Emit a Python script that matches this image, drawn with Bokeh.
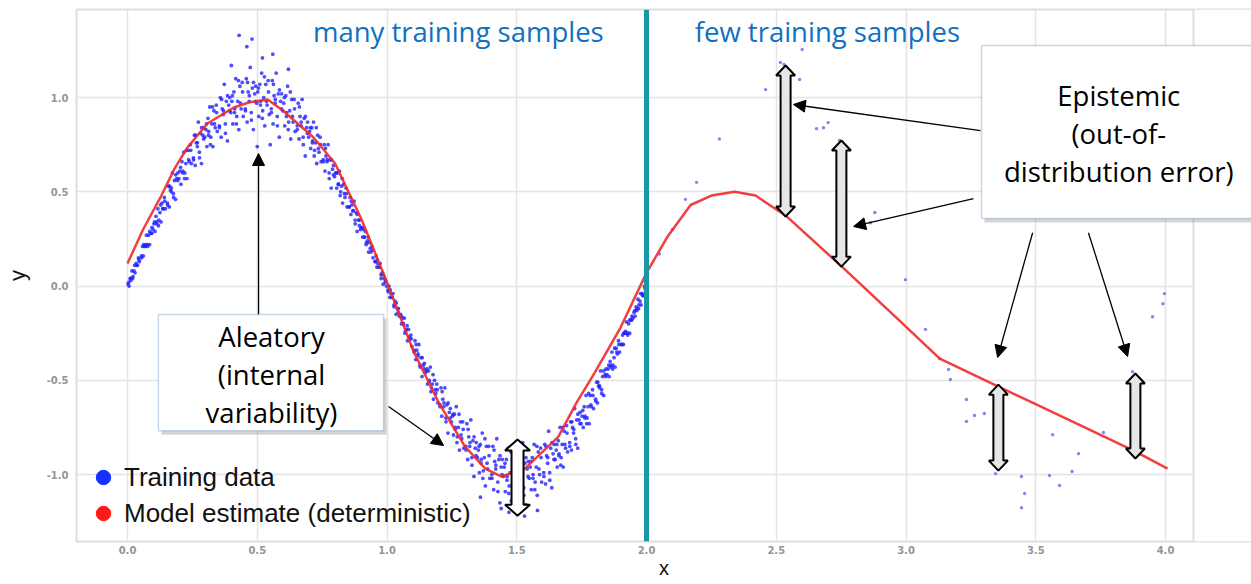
from bokeh.plotting import figure
from bokeh.models import (FixedTicker, NumeralTickFormatter, Span, Label, BoxAnnotation,
                          Arrow, NormalHead, Legend, LegendItem)
from bokeh.embed import file_html
from bokeh.resources import INLINE

# ---------------- data ----------------
train_x = [
    0.002,0.006,0.010,0.013,0.017,0.021,0.025,0.029,0.033,0.038,0.042,0.046,
    0.054,0.058,0.061,0.065,0.069,0.073,0.077,0.081,0.085,0.090,0.094,0.098,
    0.102,0.106,0.110,0.113,0.117,0.121,0.125,0.129,0.133,0.138,0.142,0.146,
    0.154,0.158,0.161,0.165,0.169,0.173,0.177,0.181,0.185,0.190,0.194,0.198,
    0.202,0.206,0.210,0.213,0.217,0.221,0.225,0.229,0.233,0.238,0.242,0.246,
    0.254,0.258,0.261,0.265,0.269,0.273,0.277,0.281,0.285,0.290,0.294,0.298,
    0.302,0.306,0.310,0.313,0.317,0.321,0.325,0.329,0.333,0.338,0.342,0.346,
    0.354,0.358,0.361,0.365,0.369,0.373,0.377,0.381,0.385,0.390,0.394,0.398,
    0.402,0.406,0.410,0.413,0.417,0.421,0.425,0.429,0.433,0.438,0.442,0.446,
    0.454,0.458,0.461,0.465,0.469,0.473,0.477,0.481,0.485,0.490,0.494,0.498,
    0.502,0.506,0.510,0.513,0.517,0.521,0.525,0.529,0.533,0.538,0.542,0.546,
    0.554,0.558,0.561,0.565,0.569,0.573,0.577,0.581,0.585,0.590,0.594,0.598,
    0.602,0.606,0.610,0.613,0.617,0.621,0.625,0.629,0.633,0.638,0.642,0.646,
    0.654,0.658,0.661,0.665,0.669,0.673,0.677,0.681,0.685,0.690,0.694,0.698,
    0.702,0.706,0.710,0.713,0.717,0.721,0.725,0.729,0.733,0.738,0.742,0.746,
    0.754,0.758,0.761,0.765,0.769,0.773,0.777,0.781,0.785,0.790,0.794,0.798,
    0.802,0.806,0.810,0.813,0.817,0.821,0.825,0.829,0.833,0.838,0.842,0.846,
    0.854,0.858,0.861,0.865,0.869,0.873,0.877,0.881,0.885,0.890,0.894,0.898,
    0.902,0.906,0.910,0.913,0.917,0.921,0.925,0.929,0.933,0.938,0.942,0.946,
    0.954,0.958,0.961,0.965,0.969,0.973,0.977,0.981,0.985,0.990,0.994,0.998,
    1.004,1.008,1.011,1.015,1.019,1.023,1.027,1.031,1.035,1.040,1.044,1.048,
    1.052,1.056,1.060,1.063,1.067,1.071,1.075,1.079,1.083,1.088,1.092,1.096,
    1.104,1.108,1.111,1.115,1.119,1.123,1.127,1.131,1.135,1.140,1.144,1.148,
    1.152,1.156,1.160,1.163,1.167,1.171,1.175,1.179,1.183,1.188,1.192,1.196,
    1.204,1.208,1.211,1.215,1.219,1.223,1.227,1.231,1.235,1.240,1.244,1.248,
    1.252,1.256,1.260,1.263,1.267,1.271,1.275,1.279,1.283,1.288,1.292,1.296,
    1.304,1.308,1.311,1.315,1.319,1.323,1.327,1.331,1.335,1.340,1.344,1.348,
    1.352,1.356,1.360,1.363,1.367,1.371,1.375,1.379,1.383,1.388,1.392,1.396,
    1.404,1.408,1.411,1.415,1.419,1.423,1.427,1.431,1.435,1.440,1.444,1.448,
    1.452,1.456,1.460,1.463,1.467,1.471,1.475,1.479,1.483,1.488,1.492,1.496,
    1.504,1.508,1.511,1.515,1.519,1.523,1.527,1.531,1.535,1.540,1.544,1.548,
    1.552,1.556,1.560,1.563,1.567,1.571,1.575,1.579,1.583,1.588,1.592,1.596,
    1.604,1.608,1.611,1.615,1.619,1.623,1.627,1.631,1.635,1.640,1.644,1.648,
    1.652,1.656,1.660,1.663,1.667,1.671,1.675,1.679,1.683,1.688,1.692,1.696,
    1.704,1.708,1.711,1.715,1.719,1.723,1.727,1.731,1.735,1.740,1.744,1.748,
    1.752,1.756,1.760,1.763,1.767,1.771,1.775,1.779,1.783,1.788,1.792,1.796,
    1.804,1.808,1.811,1.815,1.819,1.823,1.827,1.831,1.835,1.840,1.844,1.848,
    1.852,1.856,1.860,1.863,1.867,1.871,1.875,1.879,1.883,1.888,1.892,1.896,
    1.904,1.908,1.911,1.915,1.919,1.923,1.927,1.931,1.935,1.940,1.944,1.948,
    1.952,1.956,1.960,1.963,1.967,1.971,1.975,1.979,1.983,1.988,1.992,1.996,
    0.43,0.48,0.46,0.52,0.56,0.40,0.62,0.50,0.55,1.47,1.53,1.58,1.44,1.36,
]
train_y = [
    0.01,0.00,0.04,0.04,0.08,0.05,0.08,0.07,0.12,0.11,0.15,0.13,
    0.16,0.21,0.16,0.21,0.21,0.27,0.22,0.27,0.22,0.28,0.31,0.30,
    0.33,0.29,0.37,0.34,0.41,0.35,0.39,0.34,0.44,0.41,0.47,0.41,
    0.44,0.53,0.42,0.51,0.50,0.60,0.49,0.56,0.46,0.57,0.60,0.57,
    0.61,0.54,0.66,0.61,0.71,0.60,0.65,0.57,0.72,0.66,0.75,0.65,
    0.68,0.80,0.64,0.76,0.74,0.87,0.71,0.81,0.65,0.80,0.84,0.79,
    0.83,0.74,0.89,0.82,0.95,0.79,0.86,0.74,0.93,0.84,0.96,0.82,
    0.85,1.00,0.79,0.94,0.91,1.07,0.86,0.98,0.77,0.96,1.00,0.92,
    0.98,0.86,1.03,0.94,1.10,0.90,0.98,0.83,1.06,0.94,1.08,0.90,
    0.94,1.10,0.87,1.03,0.98,1.16,0.92,1.05,0.83,1.02,1.06,0.97,
    1.03,0.90,1.07,0.98,1.13,0.93,1.00,0.85,1.07,0.96,1.09,0.91,
    0.94,1.09,0.86,1.01,0.97,1.13,0.90,1.02,0.79,0.98,1.02,0.93,
    0.97,0.85,1.01,0.92,1.06,0.87,0.93,0.78,0.99,0.87,0.99,0.82,
    0.85,0.97,0.78,0.90,0.85,0.99,0.79,0.89,0.69,0.84,0.87,0.79,
    0.82,0.73,0.84,0.77,0.87,0.72,0.76,0.65,0.80,0.71,0.79,0.66,
    0.67,0.75,0.61,0.69,0.66,0.75,0.60,0.67,0.52,0.62,0.64,0.58,
    0.60,0.52,0.60,0.54,0.61,0.50,0.53,0.44,0.54,0.47,0.52,0.42,
    0.42,0.47,0.38,0.43,0.40,0.45,0.35,0.39,0.29,0.35,0.35,0.30,
    0.31,0.26,0.30,0.26,0.29,0.23,0.24,0.18,0.23,0.18,0.21,0.15,
    0.13,0.16,0.10,0.12,0.10,0.12,0.06,0.07,0.01,0.04,0.03,0.00,
    -0.02,0.00,-0.06,-0.04,-0.06,-0.04,-0.10,-0.08,-0.15,-0.12,-0.12,-0.16,
    -0.15,-0.20,-0.17,-0.20,-0.17,-0.24,-0.23,-0.29,-0.23,-0.28,-0.26,-0.32,
    -0.34,-0.29,-0.39,-0.34,-0.37,-0.31,-0.42,-0.38,-0.48,-0.42,-0.41,-0.46,
    -0.45,-0.52,-0.45,-0.50,-0.43,-0.54,-0.52,-0.60,-0.50,-0.57,-0.52,-0.62,
    -0.63,-0.54,-0.69,-0.60,-0.64,-0.54,-0.70,-0.63,-0.78,-0.67,-0.65,-0.72,
    -0.69,-0.79,-0.68,-0.75,-0.64,-0.80,-0.75,-0.87,-0.72,-0.81,-0.72,-0.86,
    -0.85,-0.73,-0.92,-0.80,-0.85,-0.71,-0.91,-0.82,-1.01,-0.86,-0.83,-0.91,
    -0.87,-0.99,-0.84,-0.92,-0.78,-0.98,-0.91,-1.06,-0.85,-0.97,-0.85,-1.02,
    -1.00,-0.85,-1.08,-0.93,-0.97,-0.81,-1.04,-0.92,-1.15,-0.96,-0.92,-1.01,
    -0.96,-1.09,-0.92,-1.01,-0.86,-1.06,-0.99,-1.14,-0.92,-1.03,-0.90,-1.08,
    -1.04,-0.89,-1.11,-0.96,-1.00,-0.83,-1.07,-0.94,-1.16,-0.97,-0.93,-1.02,
    -0.96,-1.08,-0.91,-1.00,-0.84,-1.04,-0.96,-1.11,-0.88,-1.00,-0.86,-1.04,
    -0.99,-0.84,-1.05,-0.90,-0.94,-0.77,-0.99,-0.86,-1.07,-0.89,-0.84,-0.92,
    -0.87,-0.96,-0.82,-0.89,-0.75,-0.91,-0.84,-0.96,-0.77,-0.86,-0.74,-0.88,
    -0.83,-0.72,-0.87,-0.75,-0.78,-0.65,-0.81,-0.71,-0.86,-0.71,-0.67,-0.73,
    -0.69,-0.75,-0.64,-0.69,-0.58,-0.70,-0.64,-0.73,-0.58,-0.64,-0.55,-0.65,
    -0.60,-0.51,-0.62,-0.53,-0.54,-0.45,-0.55,-0.48,-0.58,-0.47,-0.44,-0.47,
    -0.44,-0.48,-0.40,-0.42,-0.35,-0.42,-0.38,-0.43,-0.33,-0.36,-0.29,-0.35,
    -0.31,-0.26,-0.31,-0.25,-0.25,-0.19,-0.25,-0.20,-0.25,-0.18,-0.16,-0.17,
    -0.14,-0.16,-0.11,-0.12,-0.07,-0.10,-0.08,-0.10,-0.04,-0.05,0.00,-0.03,
    1.33,1.31,1.27,1.21,1.23,1.17,1.15,0.74,0.75,-1.20,-1.22,-1.19,-1.18,-1.12,
]

# more training points filling the dense band
train_x_extra = [
    0.0045,0.0125,0.0195,0.0275,0.0355,0.0435, 0.0545,0.0625,0.0695,0.0775,0.0855,0.0935,
    0.1045,0.1125,0.1195,0.1275,0.1355,0.1435, 0.1545,0.1625,0.1695,0.1775,0.1855,0.1935,
    0.2045,0.2125,0.2195,0.2275,0.2355,0.2435, 0.2545,0.2625,0.2695,0.2775,0.2855,0.2935,
    0.3045,0.3125,0.3195,0.3275,0.3355,0.3435, 0.3545,0.3625,0.3695,0.3775,0.3855,0.3935,
    0.4045,0.4125,0.4195,0.4275,0.4355,0.4435, 0.4545,0.4625,0.4695,0.4775,0.4855,0.4935,
    0.5045,0.5125,0.5195,0.5275,0.5355,0.5435, 0.5545,0.5625,0.5695,0.5775,0.5855,0.5935,
    0.6045,0.6125,0.6195,0.6275,0.6355,0.6435, 0.6545,0.6625,0.6695,0.6775,0.6855,0.6935,
    0.7045,0.7125,0.7195,0.7275,0.7355,0.7435, 0.7545,0.7625,0.7695,0.7775,0.7855,0.7935,
    0.8045,0.8125,0.8195,0.8275,0.8355,0.8435, 0.8545,0.8625,0.8695,0.8775,0.8855,0.8935,
    0.9045,0.9125,0.9195,0.9275,0.9355,0.9435, 0.9545,0.9625,0.9695,0.9775,0.9855,0.9935,
    1.0045,1.0125,1.0195,1.0275,1.0355,1.0435, 1.0545,1.0625,1.0695,1.0775,1.0855,1.0935,
    1.1045,1.1125,1.1195,1.1275,1.1355,1.1435, 1.1545,1.1625,1.1695,1.1775,1.1855,1.1935,
    1.2045,1.2125,1.2195,1.2275,1.2355,1.2435, 1.2545,1.2625,1.2695,1.2775,1.2855,1.2935,
    1.3045,1.3125,1.3195,1.3275,1.3355,1.3435, 1.3545,1.3625,1.3695,1.3775,1.3855,1.3935,
    1.4045,1.4125,1.4195,1.4275,1.4355,1.4435, 1.4545,1.4625,1.4695,1.4775,1.4855,1.4935,
    1.5045,1.5125,1.5195,1.5275,1.5355,1.5435, 1.5545,1.5625,1.5695,1.5775,1.5855,1.5935,
    1.6045,1.6125,1.6195,1.6275,1.6355,1.6435, 1.6545,1.6625,1.6695,1.6775,1.6855,1.6935,
    1.7045,1.7125,1.7195,1.7275,1.7355,1.7435, 1.7545,1.7625,1.7695,1.7775,1.7855,1.7935,
    1.8045,1.8125,1.8195,1.8275,1.8355,1.8435, 1.8545,1.8625,1.8695,1.8775,1.8855,1.8935,
    1.9045,1.9125,1.9195,1.9275,1.9355,1.9435, 1.9545,1.9625,1.9695,1.9775,1.9855,1.9935,
]
train_y_extra = [
    0.02,0.03,0.04,0.11,0.11,0.14, 0.15,0.22,0.22,0.21,0.29,0.28,
    0.34,0.33,0.32,0.43,0.41,0.45, 0.43,0.53,0.52,0.47,0.59,0.56,
    0.63,0.60,0.57,0.72,0.67,0.72, 0.67,0.80,0.76,0.68,0.84,0.78,
    0.86,0.80,0.75,0.95,0.86,0.92, 0.84,0.99,0.93,0.81,1.01,0.93,
    1.01,0.92,0.86,1.09,0.97,1.03, 0.93,1.08,1.01,0.88,1.08,0.98,
    1.05,0.96,0.89,1.11,0.98,1.03, 0.92,1.07,0.99,0.85,1.04,0.94,
    1.00,0.90,0.83,1.03,0.90,0.94, 0.83,0.95,0.87,0.75,0.90,0.81,
    0.84,0.76,0.69,0.84,0.73,0.75, 0.66,0.73,0.67,0.57,0.67,0.59,
    0.60,0.54,0.48,0.57,0.49,0.49, 0.42,0.45,0.40,0.33,0.38,0.32,
    0.31,0.26,0.22,0.26,0.20,0.19, 0.13,0.14,0.10,0.04,0.06,0.02,
    -0.03,-0.02,-0.06,-0.11,-0.09,-0.14, -0.16,-0.20,-0.25,-0.21,-0.27,-0.28,
    -0.35,-0.31,-0.36,-0.43,-0.38,-0.44, -0.44,-0.51,-0.56,-0.47,-0.55,-0.55,
    -0.64,-0.56,-0.62,-0.72,-0.62,-0.70, -0.68,-0.76,-0.83,-0.68,-0.79,-0.76,
    -0.87,-0.76,-0.83,-0.95,-0.80,-0.90, -0.85,-0.94,-1.02,-0.81,-0.94,-0.90,
    -1.02,-0.87,-0.95,-1.09,-0.90,-1.00, -0.94,-1.03,-1.10,-0.88,-1.01,-0.95,
    -1.06,-0.91,-0.98,-1.11,-0.91,-1.01, -0.93,-1.02,-1.08,-0.85,-0.97,-0.91,
    -1.01,-0.85,-0.91,-1.03,-0.83,-0.92, -0.84,-0.90,-0.95,-0.75,-0.84,-0.78,
    -0.85,-0.72,-0.76,-0.84,-0.68,-0.73, -0.66,-0.70,-0.73,-0.57,-0.63,-0.58,
    -0.61,-0.51,-0.53,-0.57,-0.45,-0.48, -0.42,-0.43,-0.44,-0.33,-0.35,-0.31,
    -0.31,-0.25,-0.24,-0.26,-0.18,-0.18, -0.13,-0.13,-0.12,-0.04,-0.05,-0.01,
]

sparse_x = [2.05, 2.10, 2.15, 2.193, 2.281, 2.459, 2.516, 2.53, 2.59, 2.60, 2.655, 2.682,
            2.70, 2.744, 2.863, 2.88, 2.998, 3.075, 3.13, 3.164, 3.171, 3.233, 3.233,
            3.264, 3.302, 3.345, 3.445, 3.457, 3.445, 3.553, 3.565, 3.592, 3.64, 3.665,
            3.761, 3.873, 3.95, 3.99, 3.996]
sparse_y = [0.17, 0.30, 0.46, 0.55, 0.78, 1.042, 1.186, 1.175, 1.096, 1.255, 0.835, 0.84,
            0.867, 0.772, 0.336, 0.39, 0.034, -0.23, -0.385, -0.443, -0.496, -0.602, -0.718,
            -0.687, -0.676, -0.995, -1.01, -1.10, -1.176, -1.005, -0.789, -1.058, -0.984, -0.889,
            -0.777, -0.454, -0.163, -0.094, -0.04]

model_x = [0.0, 0.06, 0.127, 0.18, 0.231, 0.308, 0.41, 0.47, 0.54, 0.60, 0.717, 0.80, 0.90,
           1.0, 1.1, 1.2, 1.3, 1.38, 1.44, 1.53, 1.66, 1.73, 1.80, 1.90, 2.0, 2.08, 2.17,
           2.25, 2.34, 2.42, 2.54, 2.755, 2.98, 3.13, 3.35, 3.52, 3.877, 4.008]
model_y = [0.12, 0.30, 0.47, 0.62, 0.735, 0.862, 0.947, 0.975, 0.99, 0.93, 0.788, 0.65, 0.36,
           0.02, -0.34, -0.62, -0.85, -0.97, -1.01, -0.97, -0.80, -0.62, -0.46, -0.22, 0.07,
           0.26, 0.43, 0.48, 0.50, 0.48, 0.37, 0.10, -0.19, -0.385, -0.53, -0.64, -0.873, -0.968]

x_ticks = [0.0, 0.5, 1.0, 1.5, 2.0, 2.5, 3.0, 3.5, 4.0]
y_ticks = [-1.0, -0.5, 0.0, 0.5, 1.0]
split_x = 2.0
plot_right = 4.108   # right edge of the original axes box

# double-headed (hollow) arrows: x, top, bottom in data units
darrow_x = [1.503, 2.536, 2.751, 3.356, 3.884]
darrow_top = [-0.814, 1.170, 0.772, -0.523, -0.464]
darrow_bot = [-1.218, 0.369, 0.103, -0.979, -0.915]

# pointer arrows (start -> end) in data units
ptr_x0 = [0.505, 1.006, 3.287, 3.26, 3.488, 3.703]
ptr_y0 = [-0.151, -0.639, 0.825, 0.464, 0.283, 0.283]
ptr_x1 = [0.505, 1.218, 2.566, 2.798, 3.353, 3.854]
ptr_y1 = [0.703, -0.846, 0.963, 0.316, -0.379, -0.374]

aleatory_lines = ["Aleatory", "(internal", "variability)"]
epistemic_lines = ["Epistemic", "(out-of-", "distribution error)"]
legend_labels = ["Training data", "Model estimate (deterministic)"]

# ---------------- figure ----------------
W, H = 1251, 584
BL, BR, BT, BB = 76, 0, 9, 43
PX = 259.5
X0 = -51 / PX
X1 = X0 + (W - BL - BR) / PX
Y0, Y1 = -1.355, 1.467
FH = H - BT - BB
PY = FH / (Y1 - Y0)

p = figure(width=W, height=H, x_range=(X0, X1), y_range=(Y0, Y1),
           output_backend="svg", toolbar_location=None,
           min_border_left=BL, min_border_right=BR, min_border_top=BT, min_border_bottom=BB)
p.background_fill_color = "white"
p.border_fill_color = "white"
p.outline_line_color = "#dedede"
p.outline_line_width = 2

p.xaxis.ticker = FixedTicker(ticks=x_ticks)
p.yaxis.ticker = FixedTicker(ticks=y_ticks)
for ax in (p.xaxis, p.yaxis):
    ax.formatter = NumeralTickFormatter(format="0.0")
    ax.axis_line_color = None
    ax.major_tick_line_color = None
    ax.minor_tick_line_color = None
    ax.major_tick_out = 0
    ax.major_tick_in = 0
    ax.major_label_text_font = "DejaVu Sans"
    ax.major_label_text_font_style = "bold"
    ax.major_label_text_font_size = "10px"
    ax.major_label_text_color = "#959595"
    ax.axis_label_text_font = "Liberation Sans"
    ax.axis_label_text_font_style = "normal"
    ax.axis_label_text_color = "#111111"
p.xaxis.major_label_standoff = 4
p.yaxis.major_label_standoff = 8
p.yaxis.axis_label = "y"
p.yaxis.axis_label_text_font_size = "22px"
p.yaxis.axis_label_standoff = 14
p.xaxis.axis_label = "x"
p.xaxis.axis_label_text_font_size = "20px"
p.xaxis.axis_label_standoff = 0

p.grid.grid_line_color = "#e4e4e4"
p.grid.grid_line_width = 1.5

# blank out the area to the right of the original axes box
p.add_layout(BoxAnnotation(left=plot_right, right=X1 + 1, fill_color="white", fill_alpha=1.0,
                           line_color=None, level="underlay"))
p.add_layout(Span(location=plot_right, dimension="height", line_color="#dedede", line_width=2,
                  level="underlay"))

# data
p.scatter(train_x + train_x_extra, train_y + train_y_extra, size=3.8, color="#2222ff",
          alpha=0.8, line_width=0)
p.scatter(sparse_x, sparse_y, size=3.4, color="#6e6eee", alpha=0.85, line_width=0)
p.line(model_x, model_y, line_color="#f02a2a", line_width=2.5, line_alpha=0.9)

p.add_layout(Span(location=split_x, dimension="height", line_color="#1a97a3", line_width=5))

# headers
blue = "#1070c0"
p.add_layout(Label(x=1.275, y=Y1 - 22 / PY, text="many training samples", text_align="center",
                   text_baseline="middle", text_font="Open Sans", text_font_size="27.5px",
                   text_color=blue))
p.add_layout(Label(x=2.697, y=Y1 - 22 / PY, text="few training samples", text_align="center",
                   text_baseline="middle", text_font="Open Sans", text_font_size="27.5px",
                   text_color=blue))

# hollow double arrows
def darrow(cx, top, bot, hw, hh, hl):
    dx_w, dx_h, dy_l = hw / PX, hh / PX, hl / PY
    xs = [cx, cx + dx_h, cx + dx_w, cx + dx_w, cx + dx_h, cx, cx - dx_h, cx - dx_w, cx - dx_w, cx - dx_h]
    ys = [top, top - dy_l, top - dy_l, bot + dy_l, bot + dy_l, bot, bot + dy_l, bot + dy_l, top - dy_l, top - dy_l]
    return xs, ys

dxs, dys, fills = [], [], []
for i, (cx, t, b) in enumerate(zip(darrow_x, darrow_top, darrow_bot)):
    if i == 0:
        xs, ys = darrow(cx, t, b, 6, 12.5, 11)
        fills.append("white")
    else:
        xs, ys = darrow(cx, t, b, 5, 9.5, 10)
        fills.append("#e6e6e6")
    dxs.append(xs)
    dys.append(ys)
p.patches(dxs, dys, fill_color=fills, line_color="black", line_width=2)

# text boxes with shadow
def text_box(left, right, top, bottom):
    p.add_layout(BoxAnnotation(left=left + 3 / PX, right=right + 3 / PX, top=top - 4 / PY,
                               bottom=bottom - 4 / PY, fill_color="#888888", fill_alpha=0.35,
                               line_color=None, level="overlay"))
    p.add_layout(BoxAnnotation(left=left, right=right, top=top, bottom=bottom,
                               fill_color="white", fill_alpha=1.0, line_color="#4a7ebb",
                               line_width=1.5, level="overlay"))

text_box(0.119, 0.987, -0.151, -0.767)
text_box(3.291, X1 + 1, 1.276, 0.358)

for i, t in enumerate(aleatory_lines):
    p.add_layout(Label(x=0.555, y=-0.268 - i * 38 / PY, text=t, text_align="center",
                       text_baseline="middle", text_font="Open Sans", text_font_size="27.5px",
                       text_color="black", level="overlay"))
for i, t in enumerate(epistemic_lines):
    p.add_layout(Label(x=3.82, y=1.011 - i * 38 / PY, text=t, text_align="center",
                       text_baseline="middle", text_font="Open Sans", text_font_size="27.5px",
                       text_color="black", level="overlay"))

# pointer arrows
for x0, y0, x1, y1 in zip(ptr_x0, ptr_y0, ptr_x1, ptr_y1):
    p.add_layout(Arrow(end=NormalHead(size=12, fill_color="black", line_color="black"),
                       x_start=x0, y_start=y0, x_end=x1, y_end=y1,
                       line_color="black", line_width=1.3))

# legend (renderers hold a single point outside the visible range)
r1 = p.scatter(x=[X0 - 1], y=[0], size=14, color="#1530ff")
r2 = p.scatter(x=[X0 - 1], y=[0], size=14, color="#ff1a1a")
legend = Legend(items=[LegendItem(label=legend_labels[0], renderers=[r1]),
                       LegendItem(label=legend_labels[1], renderers=[r2])],
                location=(9, 10), orientation="vertical", padding=0, margin=0, spacing=0,
                glyph_width=36, glyph_height=36, label_height=36, label_standoff=3,
                label_text_font="Liberation Sans", label_text_font_size="26px",
                label_text_color="#111111", border_line_color=None, background_fill_alpha=0)
p.add_layout(legend, "center")

open("out.html", "w").write(file_html(p, INLINE))
